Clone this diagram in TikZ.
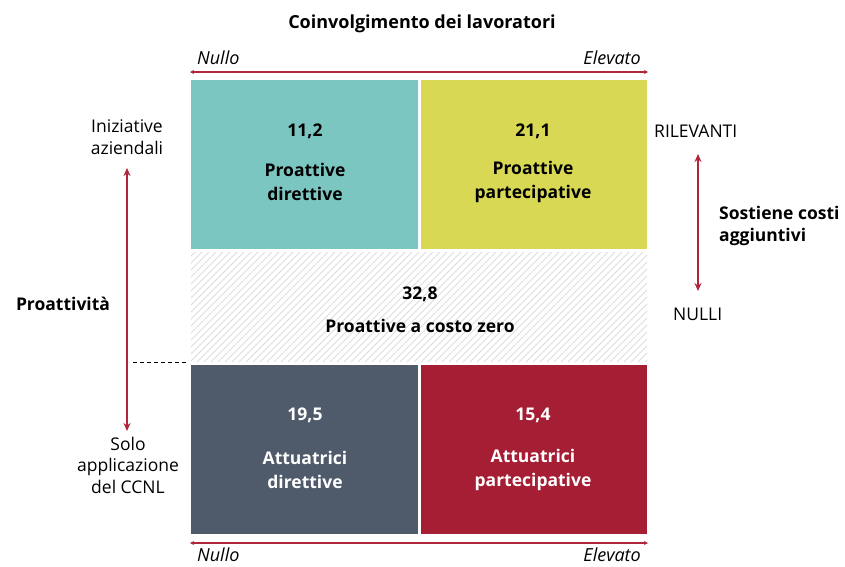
\documentclass[tikz,border=0pt]{standalone}
\usepackage{fontspec}
\setmainfont{Open Sans}
\usetikzlibrary{arrows.meta}
\definecolor{cteal}{HTML}{7BC6C1}
\definecolor{cyellow}{HTML}{D8D855}
\definecolor{cdark}{HTML}{4F5A6B}
\definecolor{cred}{HTML}{A61E34}
\definecolor{carrow}{HTML}{B0263C}
\definecolor{chatch}{HTML}{DDDDDD}
\tikzset{
  quad/.style={draw=none, minimum width=227pt, minimum height=169pt, inner sep=0pt, align=center, font=\fontsize{17.5}{24}\selectfont\bfseries},
  lbl/.style={font=\fontsize{17.5}{21.5}\selectfont, align=center, inner sep=0pt},
  blbl/.style={font=\fontsize{17.5}{22}\selectfont\bfseries, align=left, inner sep=0pt},
  ital/.style={font=\fontsize{18}{20}\selectfont\itshape, inner sep=0pt},
  harrow/.style={draw=carrow, line width=1.3pt, {Stealth[length=4pt,width=4pt]}-{Stealth[length=4pt,width=4pt]}},
  varrow/.style={draw=carrow, line width=1.8pt, {Stealth[length=8pt,width=7pt]}-{Stealth[length=8pt,width=7pt]}}
}
\begin{document}
\begin{tikzpicture}[x=1pt,y=-1pt]
\useasboundingbox (0,0) rectangle (845,566);
% quadrants
\node[quad, fill=cteal, anchor=north west] (tl) at (191,80) {};
\node[quad, fill=cyellow, anchor=north west, minimum width=226pt] (tr) at (421,80) {};
\node[quad, fill=cdark, anchor=north west, minimum height=169pt] (bl) at (191,365) {};
\node[quad, fill=cred, anchor=north west, minimum width=226pt, minimum height=169pt] (br) at (421,365) {};
% hatched middle
\coordinate (hnw) at (191,252);
\coordinate (hse) at (647,362);
\begin{scope}
\clip (hnw) rectangle (hse);
\foreach \i in {0,7,...,600} {
  \draw[chatch, line width=0.8pt] (191+\i-120,362) -- (191+\i,242);
}
\end{scope}
\node[inner sep=0pt, minimum width=456pt, minimum height=110pt, anchor=north west] (mid) at (hnw) {};
% box texts
\node[quad, minimum height=0pt] at (305,131) {11,2};
\node[quad, minimum height=0pt] at (305,182) {Proattive\\direttive};
\node[quad, minimum height=0pt] at (533,131) {21,1};
\node[quad, minimum height=0pt] at (533,182) {Proattive\\partecipative};
\node[quad, minimum height=0pt] at (420,294) {32,8};
\node[quad, minimum height=0pt] at (420,326) {Proattive a costo zero};
\node[quad, minimum height=0pt, text=white] at (305,415) {19,5};
\node[quad, minimum height=0pt, text=white] at (305,470) {Attuatrici\\direttive};
\node[quad, minimum height=0pt, text=white] at (533,415) {15,4};
\node[quad, minimum height=0pt, text=white] at (533,470) {Attuatrici\\partecipative};
% top
\node[font=\fontsize{18}{20}\selectfont\bfseries, inner sep=0pt] (title) at (422,24) {Coinvolgimento dei lavoratori};
\node[ital, anchor=west] (tn) at (197,58) {Nullo};
\node[ital, anchor=east] (te) at (641,58) {Elevato};
\coordinate (ta1) at (190,72);
\coordinate (ta2) at (648,72);
\draw[harrow] (ta1) -- (ta2);
% bottom
\coordinate (ba1) at (190,543);
\coordinate (ba2) at (648,543);
\draw[harrow] (ba1) -- (ba2);
\node[ital, anchor=base west] (bn) at (197,561) {Nullo};
\node[ital, anchor=base east] (be) at (641,561) {Elevato};
% left
\node[lbl] (ini) at (127,137) {Iniziative\\aziendali};
\node[lbl] (solo) at (128,465) {Solo\\applicazione\\del CCNL};
\coordinate (la1) at (127,168);
\coordinate (la2) at (127,431);
\draw[varrow] (la1) -- (la2);
\node[blbl] (pro) at (63,304) {Proattività};
\coordinate (d1) at (133,362);
\coordinate (d2) at (187,362);
\draw[black, line width=0.8pt, dash pattern=on 4pt off 3pt] (d1) -- (d2);
% right
\node[lbl, anchor=west] (ril) at (654,131) {RILEVANTI};
\node[lbl, anchor=west] (nul) at (673,314) {NULLI};
\coordinate (ra1) at (698,154);
\coordinate (ra2) at (698,291);
\draw[varrow] (ra1) -- (ra2);
\node[blbl, anchor=west] (cost) at (719,226) {Sostiene costi\\aggiuntivi};
\end{tikzpicture}
\end{document}
